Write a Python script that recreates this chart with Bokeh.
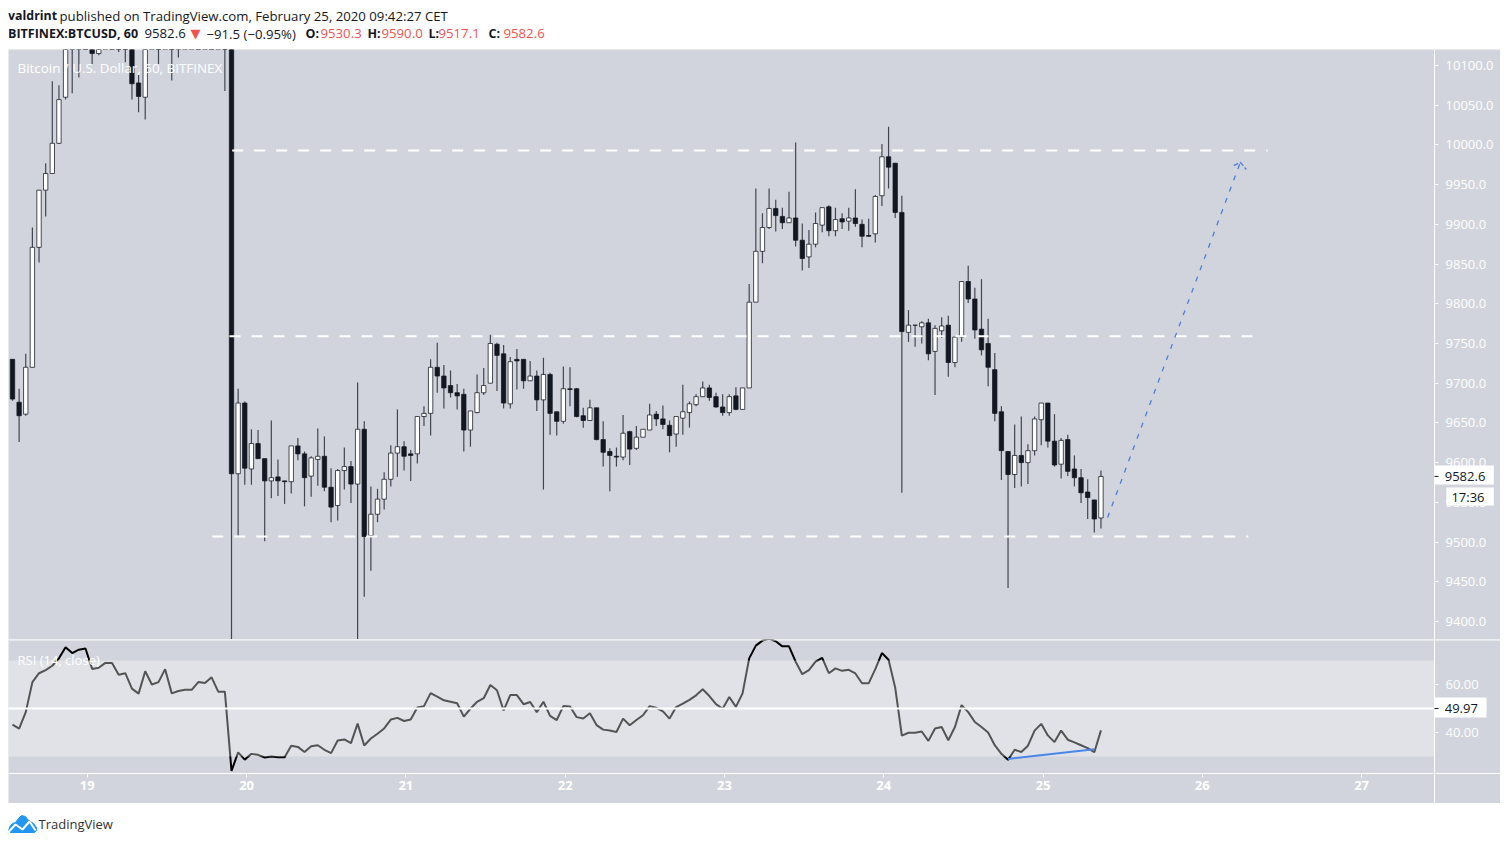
from bokeh.plotting import figure
from bokeh.layouts import column
from bokeh.models import (BoxAnnotation, Label, Span, FixedTicker, NumeralTickFormatter)
from bokeh.core.properties import value
from bokeh.embed import file_html
from bokeh.resources import INLINE

opens = [9730,9676,9661,9720,9871,9943,9964,10002,10060,10140,10150,10170,10150,10115,10150,10180,10170,10160,10150,10078,
 10060,10130,10160,10140,10165,10140,10150,10165,10175,10160,10170,10155,10170,
 10160,9586,9675,9592,9624,9605,9577,9582,9577,9576,9621,9611,9583,9604,9608,9569,9546,9590,9595,9573,9642,9508,9535,9554,9579,9612,
 9620,9611,9611,9658,9662,9720,9709,9697,9688,9686,9641,9663,9688,9700,9749,9737,9674,9730,9730,9703,9709,9679,9711,9664,9652,9693,
 9693,9659,9653,9669,9629,9614,9608,9607,9639,9618,9632,9641,9661,9655,9647,9636,9656,9663,9673,9683,9694,9683,9670,9663,9684,9667,
 9694,9802,9866,9896,9920,9910,9902,9908,9880,9859,9875,9899,9922,9892,9907,9904,9908,9900,9886,9888,9936,9985,9977,9915,9764,9773,
 9771,9776,9740,9766,9773,9726,9758,9828,9806,9768,9750,9717,9664,9614,9585,9609,9600,9615,9654,9675,9627,9598,9629,9592,9581,9563,9553,9530.3]
highs = [9730,9693,9737,9896,9943,9977,10080,10075,10150,10185,10190,10200,10170,10160,10190,10210,10195,10190,10170,10088,
 10135,10170,10180,10175,10190,10165,10175,10195,10200,10185,10190,10180,10195,
 10190,9693,9677,9642,9641,9605,9653,9604,9577,9621,9631,9614,9608,9643,9633,9593,9592,9619,9602,9701,9652,9570,9567,9588,9622,9667,
 9627,9616,9658,9671,9730,9751,9723,9716,9699,9693,9665,9711,9719,9761,9751,9748,9733,9743,9730,9728,9716,9732,9713,9664,9721,9720,
 9694,9669,9679,9669,9652,9618,9619,9660,9640,9646,9642,9674,9665,9672,9653,9658,9698,9677,9686,9702,9698,9688,9686,9686,9695,9694,
 9825,9945,9914,9945,9931,9921,9941,10003,9901,9893,9915,9921,9924,9921,9914,9921,9944,9906,9907,9937,10001,10023,9977,9936,9792,9773,
 9778,9781,9773,9783,9785,9758,9828,9848,9820,9831,9781,9738,9671,9614,9648,9658,9623,9658,9675,9675,9661,9631,9635,9609,9592,9579,9553,9590.0]
lows = [9678,9626,9659,9720,9852,9910,9964,10001,10057,10065,10085,10140,10102,10113,10130,10150,10117,10104,10057,10041,
 10032,10125,10102,10130,10081,10110,10135,10140,10150,10135,10145,10130,10068,
 9300,9508,9572,9572,9605,9501,9555,9558,9548,9561,9603,9545,9557,9571,9564,9525,9527,9566,9549,9350,9431,9464,9525,9541,9570,9582,
 9590,9577,9599,9646,9634,9688,9668,9682,9667,9614,9620,9662,9685,9700,9690,9668,9668,9692,9693,9703,9665,9566,9635,9634,9649,9671,
 9657,9644,9653,9628,9595,9564,9595,9603,9597,9616,9632,9641,9646,9642,9613,9620,9635,9644,9671,9683,9678,9669,9659,9659,9666,9667,
 9694,9802,9851,9894,9891,9894,9902,9872,9842,9845,9871,9890,9885,9885,9894,9892,9897,9871,9884,9877,9923,9945,9908,9562,9752,9746,
 9750,9729,9685,9757,9708,9720,9752,9801,9756,9735,9696,9652,9578,9442,9568,9570,9573,9609,9622,9619,9595,9580,9583,9570,9549,9529,9512,9517.1]
closes = [9680,9659,9720,9871,9943,9964,10002,10057,10140,10150,10170,10165,10115,10150,10180,10170,10160,10150,10077,10061,
 10130,10160,10140,10165,10140,10150,10165,10175,10160,10170,10155,10170,10160,
 9586,9675,9593,9624,9605,9577,9581,9577,9576,9621,9611,9581,9606,9608,9569,9544,9590,9595,9573,9642,9507,9535,9554,9579,9612,9620,
 9608,9609,9658,9662,9720,9709,9694,9688,9684,9641,9665,9688,9697,9750,9735,9675,9727,9728,9703,9709,9679,9711,9662,9652,9693,9692,
 9658,9653,9669,9629,9613,9609,9607,9637,9617,9632,9642,9660,9655,9648,9634,9658,9664,9674,9683,9694,9682,9670,9663,9683,9667,9694,
 9802,9866,9896,9920,9911,9902,9908,9880,9857,9875,9901,9921,9892,9906,9903,9908,9901,9885,9885,9935,9985,9972,9915,9765,9773,9773,
 9776,9737,9769,9772,9726,9758,9828,9806,9767,9742,9720,9662,9615,9585,9609,9600,9615,9655,9675,9627,9597,9628,9589,9581,9562,9556,9529,9582.6]

rsi = [43.3,41.6,48.5,61,64.7,66,67.8,70.9,75.5,73.1,74.5,75,66.5,67,69,69,64.1,64.7,58.3,56.2,65.5,60,61,66.4,56.3,57.3,57.8,57.8,61,60.6,
 63,57,57,24,31.7,28.7,31.1,30.7,29.6,30,29.7,29.7,34.5,34,31.9,34.3,34.7,32.8,31.4,36.7,37.1,35.6,43.7,34.6,37.5,39.5,41.7,45.4,46.1,44.8,
 45.4,50.4,51,56.4,54.9,53.4,52.8,52.2,46.6,49.9,52.8,54.3,59.8,57.6,49.2,55.6,55.6,51.8,52.7,48.5,52.8,46.9,45.2,51,50.8,46.4,45.8,48,43.1,41.2,
 40.8,40.2,45.8,43,45.2,47.2,51,50.3,48.8,45.8,50.6,52,53.6,55.5,58,55.2,51.8,49.9,54.8,50.7,56.3,70.9,76.2,78.3,79,78,75.9,75.9,
 69.5,64.3,66,69.5,71.1,64.7,66.7,65.7,66.1,64.6,60.5,60.5,66.4,73.1,70.3,58.7,38.7,39.9,39.9,40.4,36.5,41.7,42.3,36.8,42.3,51.4,48.5,44.4,
 42.3,40,34.7,31.1,28.6,32.8,31.9,34.5,40.8,43.6,38.8,36,40.8,37,35.9,34.7,33.5,31.8,40.9]

price_ticks = [9400,9450,9500,9550,9600,9650,9700,9750,9800,9850,9900,9950,10000,10050,10100]
rsi_ticks = [40,60]
day_labels = ["19","20","21","22","23","24","25","26","27"]
levels = [9993,9759,9507]
level_starts = [33.1,32.7,30.1]
level_ends = [189.1,188.2,186.2]
arrow_x = [165.0,185.0]
arrow_y = [9531,9978]
arrow_head_x = [184.0,185.0,185.9]
arrow_head_y = [9974,9978,9969]
div_x = [150,163]
div_y = [29,33]
last_close = 9582.6
last_rsi = 49.97

BG = "#d1d4dc"
FONT = "Open Sans"
DARK = "#131722"
X_RANGE = (-0.6, 224.2)
AXIS_X = 214.26
RSI_TOP = 78.75
RSI_AXIS_Y = 22.92

idx = list(range(len(opens)))
fill = ["#ffffff" if c >= o else DARK for o, c in zip(opens, closes)]
top = [max(o, c) for o, c in zip(opens, closes)]
bot = [min(o, c) for o, c in zip(opens, closes)]
day_ticks = [11.27 + 24 * i for i in range(len(day_labels))]


def style_axis(ax, standoff):
    ax.axis_line_color = "white"
    ax.major_tick_line_color = "white"
    ax.minor_tick_line_color = None
    ax.major_tick_out = 4
    ax.major_tick_in = 0
    ax.major_label_text_color = "white"
    ax.major_label_text_font = FONT
    ax.major_label_text_font_size = "13px"
    ax.major_label_standoff = standoff


def badge(fig, x0, x1, y0, y1, tx, ty, txt, tick=False):
    fig.quad(left=[x0], right=[x1], bottom=[y0], top=[y1], fill_color="white", line_alpha=0, level="overlay")
    if tick:
        fig.segment([x0], [ty], [x0 + 0.6], [ty], color=DARK, line_width=1, level="overlay")
    fig.text([tx], [ty], text=[txt], text_color=DARK, text_font=value(FONT), text_font_size=value("13px"),
             text_baseline="middle", text_align="left", level="overlay")


# header ------------------------------------------------------------
head = figure(width=1492, height=41, x_range=(8, 1500), y_range=(49, 8), output_backend="svg",
              toolbar_location=None, tools="", min_border=0, outline_line_color=None,
              background_fill_color="white", border_fill_color="white")
head.axis.visible = False
head.grid.visible = False


def hd(x, y, txt, color="#131722", bold=False, size="13.2px", font=FONT):
    head.text([x], [y], text=[txt], text_color=color, text_font=value(font), text_font_size=value(size),
              text_font_style="bold" if bold else "normal", text_baseline="middle", text_align="left")


hd(7.5, 15, "valdrint", bold=True, size="12.4px")
hd(59, 15, "published on TradingView.com, February 25, 2020 09:42:27 CET")
hd(7.5, 33, "BITFINEX:BTCUSD, 60", bold=True, size="12.5px")
hd(144, 33, "9582.6")
hd(190, 33, "\u25BC", color="#ef5350", font="DejaVu Sans", size="13px")
hd(206, 33, "\u221291.5 (\u22120.95%)")
hd(305, 33, "O:", bold=True, size="12.5px")
hd(320, 33, "9530.3", color="#ef5350")
hd(367, 33, "H:", bold=True, size="12.5px")
hd(381, 33, "9590.0", color="#ef5350")
hd(428, 33, "L:", bold=True, size="12.5px")
hd(438, 33, "9517.1", color="#ef5350")
hd(488, 33, "C:", bold=True, size="12.5px")
hd(503, 33, "9582.6", color="#ef5350")

# price pane ---------------------------------------------------------
p = figure(width=1492, height=590, x_range=X_RANGE, y_range=(9377.3, 10120.1), y_axis_location="right",
           output_backend="svg", toolbar_location=None, tools="", min_border=0, outline_line_color=None,
           background_fill_color=BG, border_fill_color=BG)
p.xaxis.visible = False
p.grid.visible = False
p.yaxis.fixed_location = AXIS_X
p.yaxis.ticker = FixedTicker(ticks=price_ticks)
p.yaxis.formatter = NumeralTickFormatter(format="0.0")
style_axis(p.yaxis, 7)

p.segment(idx, highs, idx, lows, color=DARK, line_width=1.2, line_alpha=0.75)
p.vbar(x=idx, top=top, bottom=bot, width=0.66, fill_color=fill, line_color=DARK, line_width=1, line_alpha=0.75)

for lv, a, b in zip(levels, level_starts, level_ends):
    p.line([a, b], [lv, lv], color="white", line_width=2, line_dash="11 11")
p.line(arrow_x, arrow_y, color="#4a7fd8", line_width=1.3, line_dash="5 7")
p.line(arrow_head_x, arrow_head_y, color="#4a7fd8", line_width=1.3, line_dash="5 2")

p.add_layout(Label(x=9, y=572, x_units="screen", y_units="screen", text="Bitcoin / U.S. Dollar, 60, BITFINEX",
                   text_color="white", text_font=FONT, text_font_size="13.4px", text_baseline="middle"))
badge(p, AXIS_X, 223.2, 9572.4, 9596.4, 215.8, last_close, "9582.6", tick=True)
badge(p, 216.05, 223.2, 9546, 9568.7, 216.8, 9557, "17:36")

# RSI pane -----------------------------------------------------------
r = figure(width=1492, height=164, x_range=X_RANGE, y_range=(10.42, RSI_TOP), y_axis_location="right",
           output_backend="svg", toolbar_location=None, tools="", min_border=0, outline_line_color=None,
           background_fill_color=BG, border_fill_color=BG)
r.grid.visible = False
r.line(idx, rsi, color="black", line_width=2)
r.add_layout(BoxAnnotation(left=X_RANGE[0], right=AXIS_X, bottom=30, top=70, fill_color="white", fill_alpha=0.33,
                           line_alpha=0))
r.line([X_RANGE[0], AXIS_X], [last_rsi, last_rsi], color="white", line_width=2, level="overlay")
r.add_layout(Span(location=RSI_TOP - 0.2, dimension="width", line_color="white", line_width=1))
r.line(div_x, div_y, color="#4a86e8", line_width=2, level="overlay")
r.yaxis.fixed_location = AXIS_X
r.xaxis.fixed_location = RSI_AXIS_Y
r.yaxis.ticker = FixedTicker(ticks=rsi_ticks)
r.yaxis.formatter = NumeralTickFormatter(format="0.00")
r.xaxis.ticker = FixedTicker(ticks=day_ticks)
r.xaxis.major_label_overrides = {t: l for t, l in zip(day_ticks, day_labels)}
style_axis(r.xaxis, 4)
style_axis(r.yaxis, 7)
r.xaxis.major_label_text_font_style = "bold"
r.add_layout(Label(x=9, y=144, x_units="screen", y_units="screen", text="RSI (14, close)", text_color="white",
                   text_font=FONT, text_font_size="13px", text_baseline="middle"))
badge(r, AXIS_X, 222.1, 46.25, 54.6, 215.8, last_rsi, "49.97", tick=True)

# footer -------------------------------------------------------------
foot = figure(width=1492, height=33, x_range=(8, 1500), y_range=(836, 803), output_backend="svg",
              toolbar_location=None, tools="", min_border=0, outline_line_color=None,
              background_fill_color="white", border_fill_color="white")
foot.axis.visible = False
foot.grid.visible = False
foot.patch([8, 10, 12, 15, 18, 21, 25, 27, 30, 33, 36, 36, 34, 10, 8],
           [829, 825, 823, 822, 818, 815, 816, 819, 821, 823, 827, 830, 832, 832, 830], color="#2196f3")
foot.line([8.5, 15, 22, 29, 35], [831, 824, 829, 821, 830], color="white", line_width=2)
foot.text([38], [823], text=["TradingView"], text_color="#333333", text_font=value(FONT),
          text_font_size=value("13px"), text_baseline="middle")

page = column(head, p, r, foot, spacing=0, margin=(8, 0, 0, 8))
open("out.html", "w").write(file_html(page, INLINE))
